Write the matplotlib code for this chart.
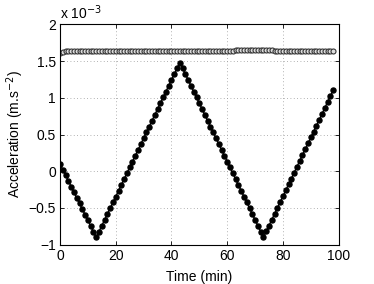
import matplotlib
matplotlib.use("Agg")
import matplotlib.pyplot as plt
import numpy as np

plt.rcParams['font.family'] = ['Liberation Sans', 'DejaVu Sans']
plt.rcParams['axes.unicode_minus'] = True

time_min = list(range(0, 99))

# acceleration in units of 1e-3 m.s^-2
accel_tri = [
    0.100, 0.023, -0.054, -0.131, -0.208, -0.285, -0.362, -0.438, -0.515, -0.592,
    -0.669, -0.746, -0.823, -0.900,
    -0.821, -0.741, -0.662, -0.583, -0.503, -0.424, -0.345, -0.265, -0.186, -0.107,
    -0.027, 0.052, 0.131, 0.211, 0.290, 0.369, 0.449, 0.528, 0.607, 0.687,
    0.766, 0.845, 0.925, 1.004, 1.083, 1.163, 1.242, 1.321, 1.401, 1.480,
    1.401, 1.321, 1.242, 1.163, 1.083, 1.004, 0.925, 0.845, 0.766, 0.687,
    0.607, 0.528, 0.449, 0.369, 0.290, 0.211, 0.131, 0.052, -0.027, -0.107,
    -0.186, -0.265, -0.345, -0.424, -0.503, -0.583, -0.662, -0.741, -0.821, -0.900,
    -0.82, -0.74, -0.66, -0.58, -0.50, -0.42, -0.34, -0.26, -0.18, -0.10,
    -0.02, 0.06, 0.14, 0.22, 0.30, 0.38, 0.46, 0.54, 0.62, 0.70,
    0.78, 0.86, 0.94, 1.02, 1.10,
]

accel_flat = [
    1.612, 1.628, 1.631, 1.632, 1.633, 1.633, 1.634, 1.634, 1.635, 1.635,
    1.635, 1.636, 1.636, 1.636, 1.637, 1.637, 1.637, 1.638, 1.638, 1.638,
    1.638, 1.638, 1.638, 1.637, 1.637, 1.637, 1.637, 1.636, 1.636, 1.636,
    1.636, 1.636, 1.635, 1.635, 1.635, 1.635, 1.635, 1.635, 1.636, 1.636,
    1.636, 1.636, 1.637, 1.637, 1.637, 1.638, 1.638, 1.638, 1.639, 1.639,
    1.639, 1.640, 1.640, 1.640, 1.641, 1.641, 1.641, 1.642, 1.642, 1.642,
    1.643, 1.643, 1.643, 1.644, 1.644, 1.644, 1.645, 1.645, 1.645, 1.645,
    1.645, 1.645, 1.645, 1.645, 1.644, 1.644, 1.644, 1.643, 1.643, 1.643,
    1.642, 1.642, 1.641, 1.641, 1.640, 1.640, 1.640, 1.639, 1.639, 1.639,
    1.638, 1.638, 1.638, 1.638, 1.638, 1.638, 1.638, 1.638, 1.638,
]

x_ticks = [0, 20, 40, 60, 80, 100]
y_ticks = [-1, -0.5, 0, 0.5, 1, 1.5, 2]
y_tick_labels = ['\u22121', '\u22120.5', '0', '0.5', '1', '1.5', '2']

fig = plt.figure(figsize=(3.74, 2.84), dpi=100)
ax = fig.add_axes([60/374, 1 - 244.7/284, (338.7-60)/374, (244.7-24.3)/284])

ax.plot(time_min, accel_flat, linestyle='-', color='#444444', linewidth=0.8,
        marker='o', markersize=3.6, markerfacecolor='#dddddd',
        markeredgecolor='#333333', markeredgewidth=0.8)
ax.plot(time_min, accel_tri, linestyle='-', color='black', linewidth=1.0,
        marker='o', markersize=3.6, markerfacecolor='black',
        markeredgecolor='black')

ax.set_xlim(0, 100)
ax.set_ylim(-1, 2)
ax.set_xticks(x_ticks)
ax.set_yticks(y_ticks)
ax.set_yticklabels(y_tick_labels)
ax.tick_params(direction='in', top=True, right=True, labelsize=10,
               length=3, width=0.6, pad=3)
ax.grid(True, linestyle=(0, (1, 3)), color='#999999', linewidth=0.6)
for s in ax.spines.values():
    s.set_linewidth(0.8)

ax.set_xlabel('Time (min)', fontsize=10, labelpad=5)
ax.set_ylabel('Acceleration (m.s$^{-2}$)', fontsize=10, labelpad=2)
fig.text(60/374, 1 - 13/284, 'x 10$^{-3}$', fontsize=10, va='center', ha='left')

fig.savefig('out.png', dpi=100)
